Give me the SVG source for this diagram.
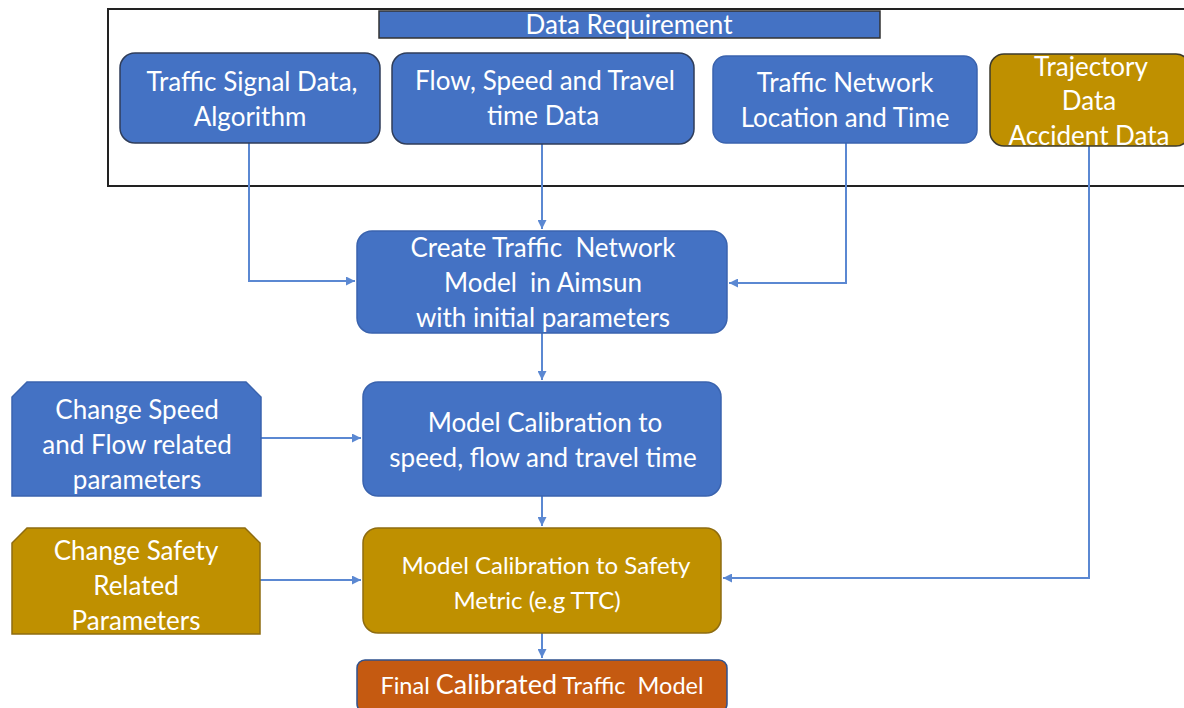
<svg xmlns="http://www.w3.org/2000/svg" width="1184" height="708" viewBox="0 0 1184 708">
<defs>
<style>
.t{font-family:Lato,"Open Sans","Liberation Sans",sans-serif;fill:#fff;text-anchor:middle;font-size:26px;white-space:pre}
.blue{fill:#4472C4;stroke:#2F3D5A;stroke-width:1.5}
.blue2{fill:#4472C4;stroke:#3A63AE;stroke-width:1.5}
.gold{fill:#BF9000;stroke:#3C3A2C;stroke-width:1.5}
.gold2{fill:#BF9000;stroke:#8E6C10;stroke-width:1.5}
.org{fill:#C55A11;stroke:#2F528F;stroke-width:1.5}
.c{fill:none;stroke:#5B88D2;stroke-width:2}
</style>
<marker id="a" viewBox="0 0 10 10" refX="10" refY="5" markerWidth="4.5" markerHeight="4.5" orient="auto-start-reverse" markerUnits="strokeWidth">
<path d="M0,0 L10,5 L0,10 z" fill="#5B88D2"/>
</marker>
</defs>
<rect width="1184" height="708" fill="#fff"/>
<g id="container">
<path d="M1186,9 L108,9 L108,186 L1186,186" fill="none" stroke="#222" stroke-width="2"/>
</g>
<g id="header">
<rect x="379" y="11" width="501" height="27" fill="#4472C4" stroke="#333" stroke-width="1.5"/>
<text class="t" x="629" y="34">Data Requirement</text>
</g>
<g id="connectors">
<path class="c" d="M249,143 V281 H355" marker-end="url(#a)"/>
<path class="c" d="M542,144 V229" marker-end="url(#a)" stroke-width="1.2"/>
<path class="c" d="M846,143 V283 H729" marker-end="url(#a)"/>
<path class="c" d="M1089,146 V578 H723" marker-end="url(#a)"/>
<path class="c" d="M542,333 V380" marker-end="url(#a)"/>
<path class="c" d="M542,496 V526" marker-end="url(#a)"/>
<path class="c" d="M542,633 V658" marker-end="url(#a)"/>
<path class="c" d="M261,438 H361" marker-end="url(#a)"/>
<path class="c" d="M260,580 H361" marker-end="url(#a)"/>
</g>
<g id="n1">
<rect class="blue" x="120" y="53" width="260" height="90" rx="15"/>
<text class="t" x="252" y="91">Traffic Signal Data,</text>
<text class="t" x="250" y="126">Algorithm</text>
</g>
<g id="n2">
<rect class="blue" x="392" y="53" width="302" height="91" rx="15"/>
<text class="t" x="545" y="90">Flow, Speed and Travel</text>
<text class="t" x="543" y="125">time Data</text>
</g>
<g id="n3">
<rect class="blue2" x="713" y="56" width="264" height="87" rx="13"/>
<text class="t" x="845" y="92">Traffic Network</text>
<text class="t" x="845" y="127">Location and Time</text>
</g>
<g id="n4">
<rect class="gold" x="990" y="54" width="200" height="92" rx="14"/>
<text class="t" x="1091" y="76">Trajectory</text>
<text class="t" x="1089" y="110">Data</text>
<text class="t" x="1089" y="145">Accident Data</text>
</g>
<g id="create">
<rect class="blue2" x="357" y="231" width="370" height="102" rx="15"/>
<text class="t" x="543" y="257">Create Traffic  Network</text>
<text class="t" x="543" y="292">Model  in Aimsun</text>
<text class="t" x="543" y="327">with initial parameters</text>
</g>
<g id="calib">
<rect class="blue2" x="363" y="382" width="358" height="114" rx="15"/>
<text class="t" x="545" y="432">Model Calibration to</text>
<text class="t" x="543" y="467">speed, flow and travel time</text>
</g>
<g id="safety">
<rect class="gold2" x="363" y="528" width="358" height="105" rx="15"/>
<text class="t" x="546" y="574" style="font-size:24px">Model Calibration to Safety</text>
<text class="t" x="537" y="609" style="font-size:24px">Metric (e.g TTC)</text>
</g>
<g id="final">
<rect class="org" x="357" y="660" width="370" height="52" rx="8"/>
<text class="t" x="542" y="694" style="font-size:23.5px">Final <tspan style="font-size:27px">Calibrated</tspan> Traffic  Model</text>
</g>
<g id="s1">
<path class="blue2" d="M27,382 H246 L261,397 V496 H12 V397 Z"/>
<text class="t" x="137" y="419">Change Speed</text>
<text class="t" x="137" y="454">and Flow related</text>
<text class="t" x="137" y="489">parameters</text>
</g>
<g id="s2">
<path class="gold2" d="M27,528 H245 L260,543 V634 H12 V543 Z"/>
<text class="t" x="136" y="560">Change Safety</text>
<text class="t" x="136" y="595">Related</text>
<text class="t" x="136" y="630">Parameters</text>
</g>
</svg>
